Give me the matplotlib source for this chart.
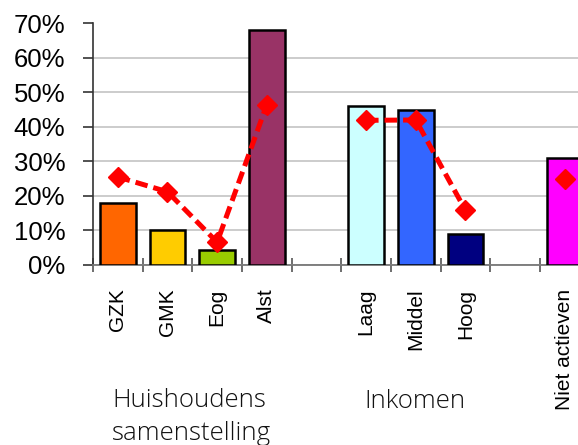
import numpy as np
import matplotlib
matplotlib.use("Agg")
import matplotlib.pyplot as plt
from matplotlib.ticker import FuncFormatter, FixedLocator

nan = np.nan

# Categories (empty strings are spacer slots between groups)
categories = ["GZK", "GMK", "Eog", "Alst", "", "Laag", "Middel", "Hoog", "", "Niet actieven"]
# Bar heights (%)
bar_values = [18, 10, 4.3, 68, nan, 46, 45, 9, nan, 31]
# Dashed line values (%)
line_values = [25.5, 21.2, 6.6, 46.4, nan, 41.9, 42, 15.9, nan, 25]
bar_colors = ["#FF6600", "#FFCC00", "#99CC00", "#993366", "none",
              "#CCFFFF", "#3366FF", "#000080", "none", "#FF00FF"]
group_labels = ["Huishoudens", "samenstelling", "Inkomen"]

W, H = 578, 445
fig = plt.figure(figsize=(W / 100, H / 100), dpi=100)

left_px, axis_px, top_px = 93, 265, 23.3
slot_px = 49.65
ax = fig.add_axes([left_px / W, 1 - axis_px / H,
                   slot_px * len(categories) / W, (axis_px - top_px) / H])

x = np.arange(len(categories))
ax.bar(x, bar_values, width=0.72, color=bar_colors, edgecolor="black",
       linewidth=1.8, zorder=3)
ax.plot(x, line_values, color="#FF0000", linestyle=(0, (2.5, 1.2)),
        linewidth=3.6, marker="D", markersize=10, zorder=4)

ax.set_xlim(-0.5, len(categories) - 0.5)
ax.set_ylim(0, 70)
ax.set_yticks(np.arange(0, 71, 10))
ax.yaxis.set_major_formatter(FuncFormatter(lambda v, p: f"{int(v)}%"))

ax.grid(axis="y", color="#C8C8C8", linewidth=1.3, zorder=0)
ax.set_axisbelow(True)
ax.get_ygridlines()[-1].set_visible(False)

ax.set_xticks(x)
ax.set_xticklabels(categories, rotation=90, fontsize=15,
                   family="Liberation Sans")
ax.xaxis.set_minor_locator(FixedLocator(np.arange(-0.5, len(categories), 1.0)))
ax.tick_params(axis="x", which="major", length=0, pad=17)
ax.tick_params(axis="x", which="minor", direction="inout", length=10,
               width=1.2, color="#555555")
ax.tick_params(axis="y", direction="out", length=7, width=1.2,
               color="#333333", pad=13, labelsize=18.5)
for lab in ax.get_yticklabels():
    lab.set_family("Liberation Sans")

for s in ("top", "right"):
    ax.spines[s].set_visible(False)
ax.spines["left"].set_color("#333333")
ax.spines["left"].set_linewidth(1.2)
ax.spines["bottom"].set_color("#777777")
ax.spines["bottom"].set_linewidth(1.3)

gfont = dict(family="Open Sans", weight="light", fontsize=18.5, color="#111111")
fig.text(112 / W, 1 - 407 / H, group_labels[0], ha="left", va="baseline", **gfont)
fig.text(112 / W, 1 - 440 / H, group_labels[1], ha="left", va="baseline", **gfont)
fig.text(415 / W, 1 - 408 / H, group_labels[2], ha="center", va="baseline", **gfont)

fig.savefig("out.png", dpi=100)
